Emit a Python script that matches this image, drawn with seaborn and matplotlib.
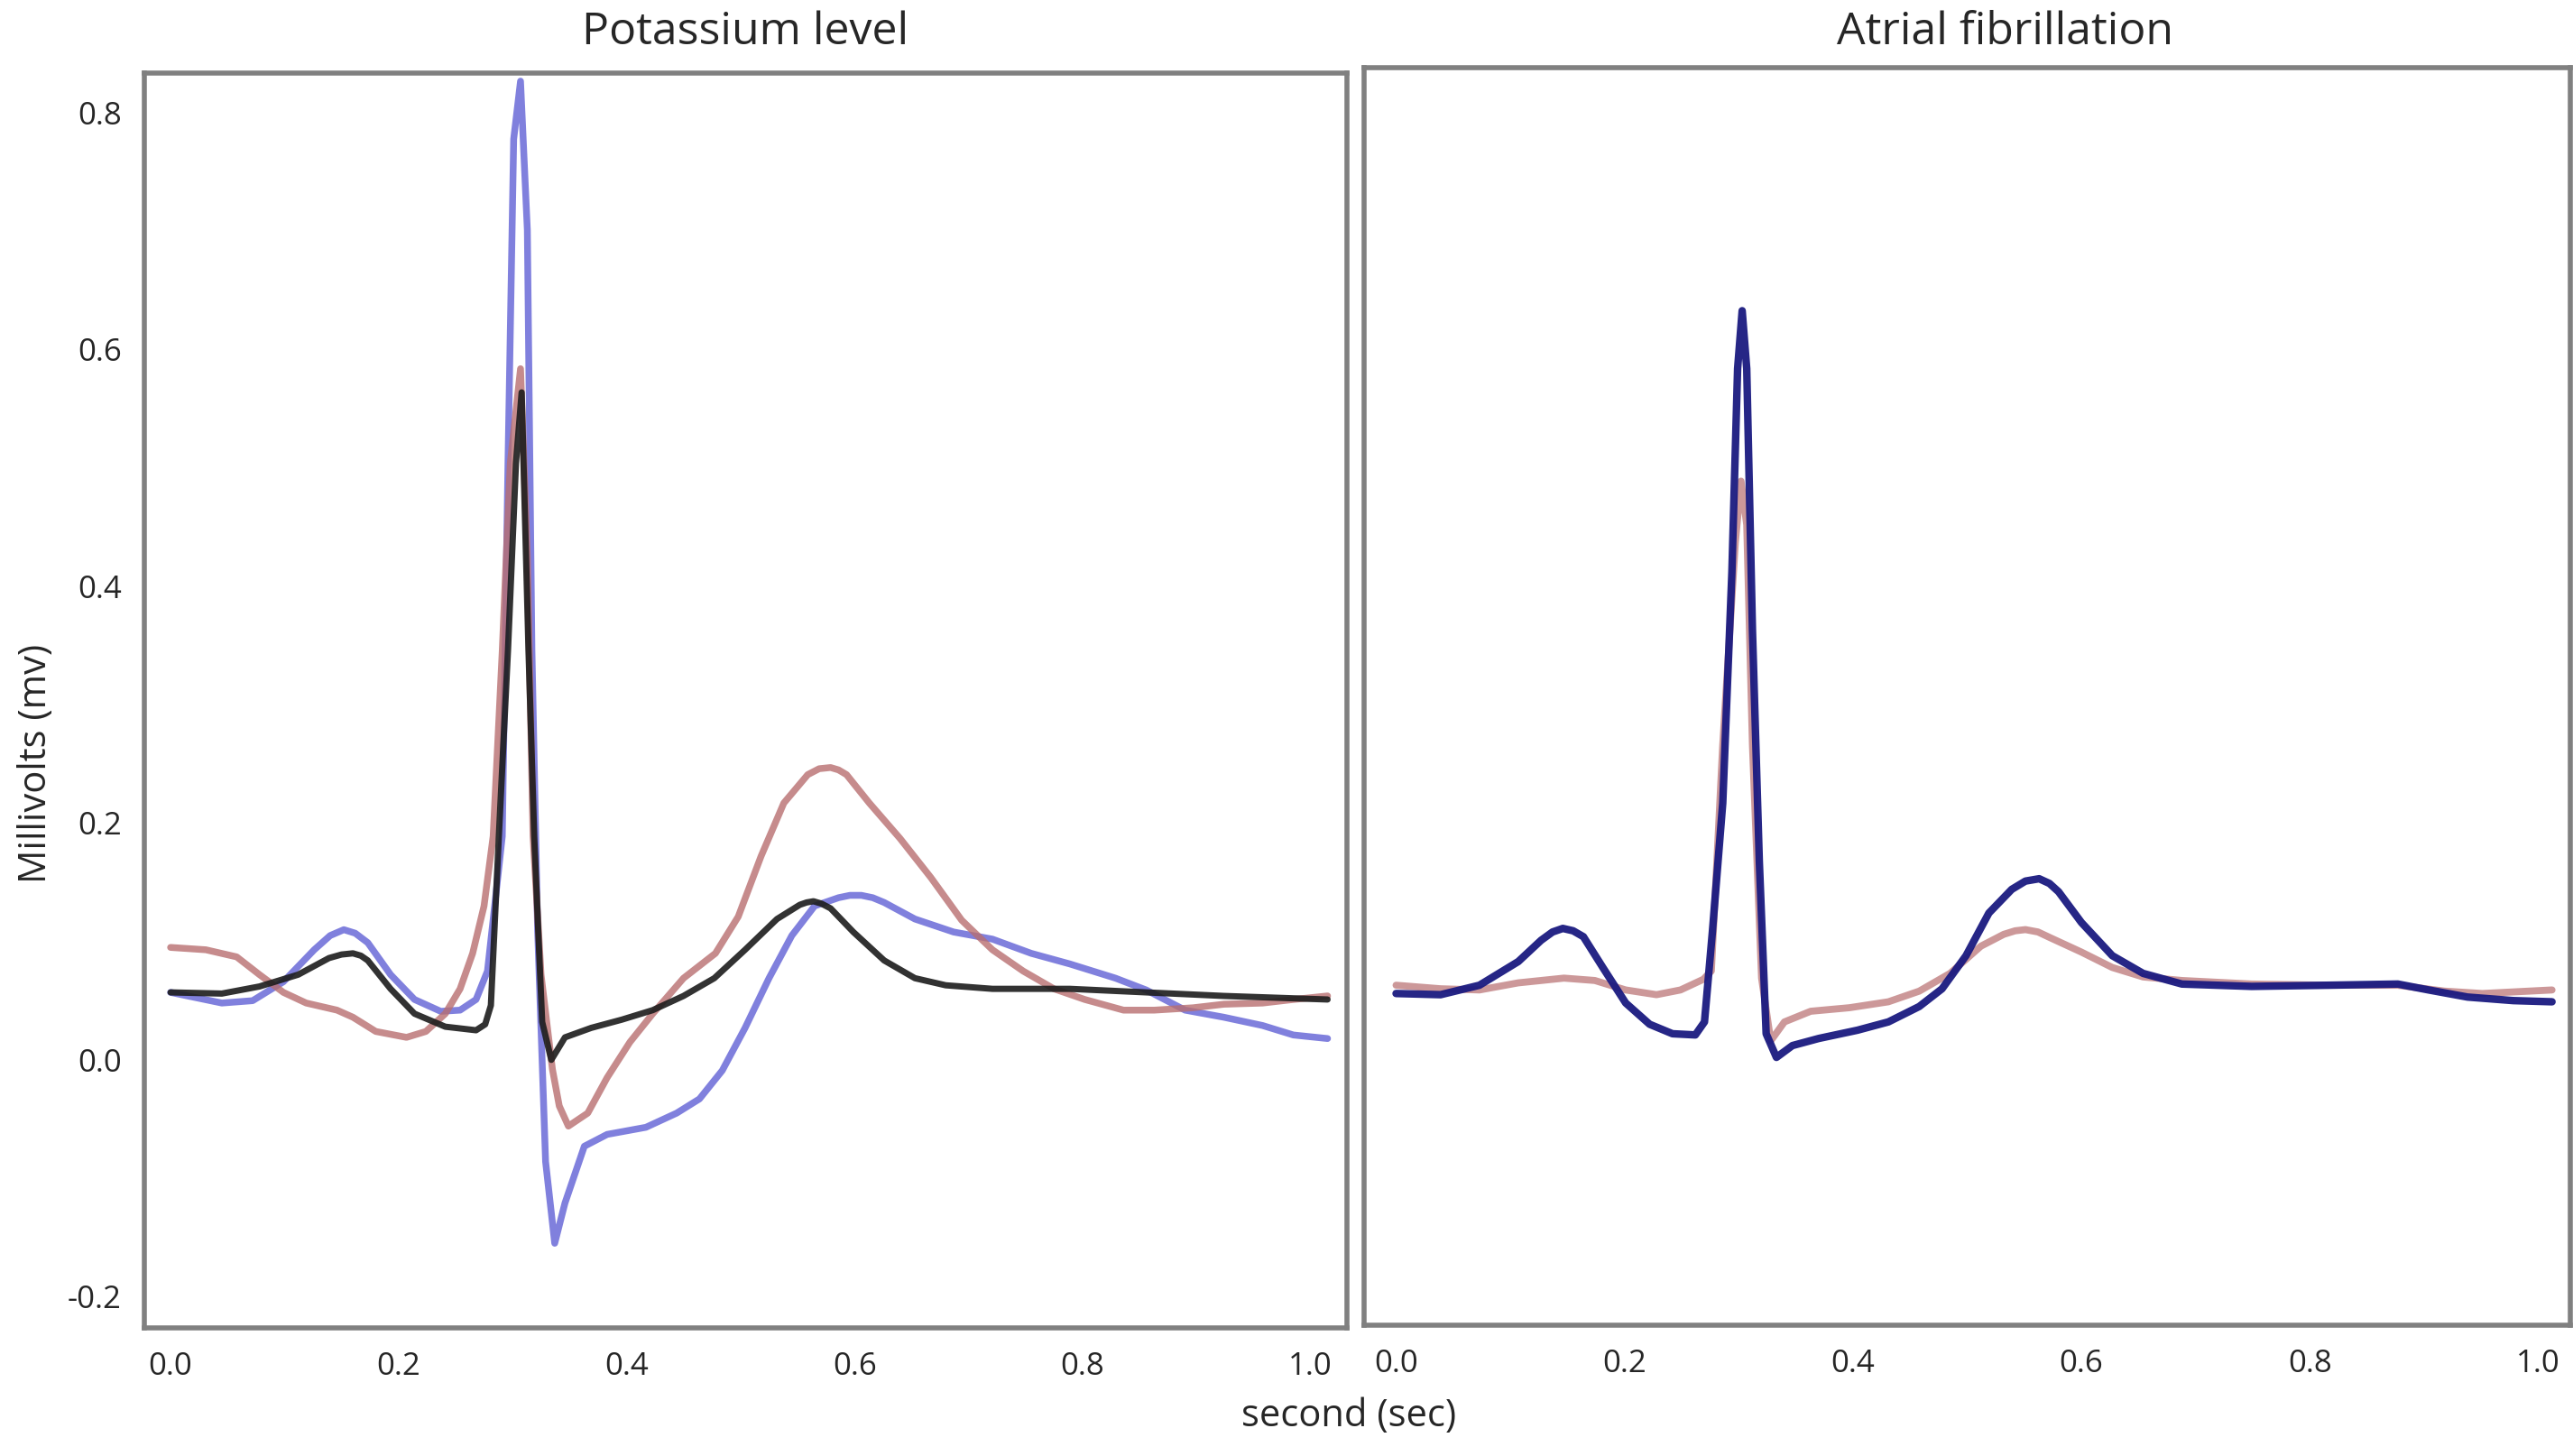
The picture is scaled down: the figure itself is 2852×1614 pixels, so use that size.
import numpy as np
import pandas as pd
import matplotlib
matplotlib.use("Agg")
import matplotlib.pyplot as plt
import seaborn as sns

# ---------------- data ----------------
# Left panel: "Potassium level"
blue_x = [0.0, 0.045, 0.072, 0.099, 0.126, 0.140, 0.152, 0.162, 0.173, 0.193, 0.214, 0.237,
          0.254, 0.268, 0.278, 0.285, 0.291, 0.296, 0.301, 0.307, 0.313, 0.317, 0.322, 0.329,
          0.337, 0.346, 0.363, 0.383, 0.417, 0.444, 0.464, 0.484, 0.504, 0.525, 0.545, 0.565,
          0.586, 0.596, 0.606, 0.616, 0.626, 0.653, 0.687, 0.721, 0.755, 0.789, 0.829, 0.856,
          0.890, 0.924, 0.958, 0.985, 1.015]
blue_y = [0.056, 0.047, 0.049, 0.065, 0.092, 0.104, 0.109, 0.106, 0.098, 0.071, 0.050, 0.040,
          0.041, 0.050, 0.074, 0.135, 0.188, 0.503, 0.777, 0.826, 0.70, 0.345, 0.109, -0.087,
          -0.156, -0.122, -0.074, -0.064, -0.058, -0.046, -0.034, -0.010, 0.026, 0.068, 0.104, 0.129,
          0.136, 0.138, 0.138, 0.136, 0.132, 0.118, 0.107, 0.101, 0.089, 0.080, 0.068, 0.058,
          0.041, 0.035, 0.028, 0.020, 0.017]

red_x = [0.0, 0.031, 0.058, 0.078, 0.099, 0.119, 0.146, 0.160, 0.180, 0.207, 0.224, 0.241,
         0.254, 0.265, 0.275, 0.283, 0.291, 0.298, 0.307, 0.313, 0.318, 0.325, 0.335, 0.341,
         0.349, 0.366, 0.383, 0.403, 0.423, 0.450, 0.478, 0.498, 0.518, 0.538, 0.559, 0.569,
         0.579, 0.586, 0.593, 0.613, 0.640, 0.667, 0.694, 0.721, 0.748, 0.775, 0.802, 0.836,
         0.863, 0.897, 0.924, 0.958, 0.985, 1.015]
red_y = [0.094, 0.092, 0.086, 0.071, 0.056, 0.047, 0.041, 0.035, 0.023, 0.018, 0.023, 0.038,
         0.059, 0.089, 0.129, 0.188, 0.345, 0.503, 0.583, 0.424, 0.188, 0.071, -0.009, -0.040,
         -0.057, -0.046, -0.016, 0.014, 0.038, 0.068, 0.089, 0.120, 0.171, 0.216, 0.240, 0.245,
         0.246, 0.244, 0.240, 0.216, 0.186, 0.153, 0.117, 0.092, 0.074, 0.059, 0.050, 0.041,
         0.041, 0.043, 0.046, 0.047, 0.050, 0.053]

black_x = [0.0, 0.045, 0.078, 0.112, 0.139, 0.150, 0.160, 0.167, 0.173, 0.193, 0.214, 0.241,
           0.268, 0.276, 0.281, 0.288, 0.296, 0.303, 0.308, 0.314, 0.319, 0.326, 0.334, 0.346,
           0.369, 0.396, 0.423, 0.450, 0.477, 0.504, 0.532, 0.552, 0.558, 0.564, 0.571, 0.579,
           0.599, 0.626, 0.653, 0.680, 0.721, 0.789, 0.856, 0.924, 1.015]
black_y = [0.056, 0.055, 0.061, 0.071, 0.085, 0.088, 0.089, 0.087, 0.083, 0.059, 0.038, 0.027,
           0.024, 0.029, 0.045, 0.188, 0.345, 0.503, 0.563, 0.345, 0.188, 0.031, -0.001, 0.018,
           0.026, 0.033, 0.041, 0.053, 0.068, 0.092, 0.118, 0.130, 0.132, 0.133, 0.131, 0.127,
           0.107, 0.083, 0.068, 0.062, 0.059, 0.059, 0.056, 0.053, 0.050]

# Right panel: "Atrial fibrillation"
navy_x = [0.0, 0.039, 0.073, 0.107, 0.127, 0.137, 0.146, 0.155, 0.164, 0.181, 0.201, 0.222,
          0.242, 0.262, 0.270, 0.277, 0.286, 0.294, 0.299, 0.303, 0.307, 0.312, 0.318, 0.324,
          0.333, 0.347, 0.370, 0.404, 0.431, 0.458, 0.478, 0.499, 0.519, 0.539, 0.551, 0.563,
          0.572, 0.580, 0.600, 0.627, 0.654, 0.688, 0.749, 0.816, 0.877, 0.904, 0.938, 0.978,
          1.012]
navy_y = [0.055, 0.054, 0.062, 0.082, 0.100, 0.107, 0.110, 0.108, 0.103, 0.077, 0.047, 0.029,
          0.021, 0.020, 0.031, 0.108, 0.216, 0.411, 0.583, 0.632, 0.583, 0.362, 0.167, 0.021,
          0.001, 0.011, 0.017, 0.024, 0.031, 0.044, 0.059, 0.087, 0.123, 0.143, 0.150, 0.152,
          0.148, 0.141, 0.115, 0.087, 0.072, 0.063, 0.061, 0.062, 0.063, 0.058, 0.052, 0.049,
          0.048]

pink_x = [0.0, 0.039, 0.073, 0.107, 0.147, 0.174, 0.201, 0.228, 0.249, 0.269, 0.276, 0.286,
          0.297, 0.302, 0.307, 0.312, 0.320, 0.328, 0.340, 0.363, 0.397, 0.431, 0.458, 0.485,
          0.512, 0.532, 0.542, 0.551, 0.562, 0.573, 0.600, 0.627, 0.654, 0.688, 0.749, 0.816,
          0.877, 0.918, 0.951, 1.012]
pink_y = [0.062, 0.059, 0.058, 0.064, 0.068, 0.066, 0.058, 0.054, 0.058, 0.067, 0.074, 0.265,
          0.436, 0.488, 0.451, 0.265, 0.068, 0.015, 0.031, 0.040, 0.043, 0.048, 0.057, 0.072,
          0.095, 0.105, 0.108, 0.109, 0.107, 0.102, 0.090, 0.077, 0.069, 0.066, 0.063, 0.062,
          0.062, 0.057, 0.055, 0.058]

x_ticks = [0.0, 0.2, 0.4, 0.6, 0.8, 1.0]
y_ticks = [-0.2, 0.0, 0.2, 0.4, 0.6, 0.8]
titles = ["Potassium level", "Atrial fibrillation"]

# ---------------- style ----------------
sns.set_theme(style="white")
plt.rcParams["font.family"] = ["Open Sans", "DejaVu Sans"]
TXT = "#262626"

fig = plt.figure(figsize=(14.26, 8.075), dpi=200)
axL = fig.add_axes([160 / 2852, 1 - 1473 / 1615, 1333 / 2852, 1391 / 1615])
axR = fig.add_axes([1512 / 2852, 1 - 1470 / 1615, 1337 / 2852, 1394 / 1615])

def line(ax, xs, ys, color, lw, alpha):
    df = pd.DataFrame({"x": xs, "y": ys})
    sns.lineplot(data=df, x="x", y="y", ax=ax, color=color, lw=lw, alpha=alpha,
                 estimator=None, sort=False, solid_joinstyle="round", solid_capstyle="round")

line(axL, blue_x, blue_y, "#6a6ad8", 2.7, 0.85)
line(axL, red_x, red_y, "#b86e70", 2.7, 0.8)
line(axL, black_x, black_y, "#1c1c1c", 2.5, 0.9)

line(axR, pink_x, pink_y, "#c07e80", 2.8, 0.8)
line(axR, navy_x, navy_y, "#1a1a80", 3.0, 0.95)

axL.set_xlim(-0.023, 1.032)
axL.set_ylim(-0.2275, 0.8328)
axR.set_xlim(-0.028, 1.028)
axR.set_ylim(-0.2253, 0.8374)

for ax in (axL, axR):
    ax.set_xlabel("")
    ax.set_ylabel("")
    ax.set_xticks(x_ticks)
    ax.set_xticklabels([f"{t:.1f}" for t in x_ticks])
    ax.tick_params(axis="both", length=0, labelsize=12.5, colors=TXT, pad=9)
    for s in ax.spines.values():
        s.set_visible(True)
        s.set_color("#808080")
        s.set_linewidth(2.0)

axL.set_yticks(y_ticks)
axL.set_yticklabels([f"{t:.1f}" for t in y_ticks])
axR.set_yticks([])

fig.text(826 / 2852, 1 - 36 / 1615, titles[0], ha="center", va="center", fontsize=18, color=TXT)
fig.text(2223 / 2852, 1 - 36 / 1615, titles[1], ha="center", va="center", fontsize=18, color=TXT)
fig.text(1495 / 2852, 1 - 1570 / 1615, "second (sec)", ha="center", va="center", fontsize=15, color=TXT)
fig.text(40 / 2852, 1 - 846 / 1615, "Millivolts (mv)", ha="center", va="center",
         rotation=90, fontsize=15, color=TXT)

fig.savefig("out.png", dpi=200)
